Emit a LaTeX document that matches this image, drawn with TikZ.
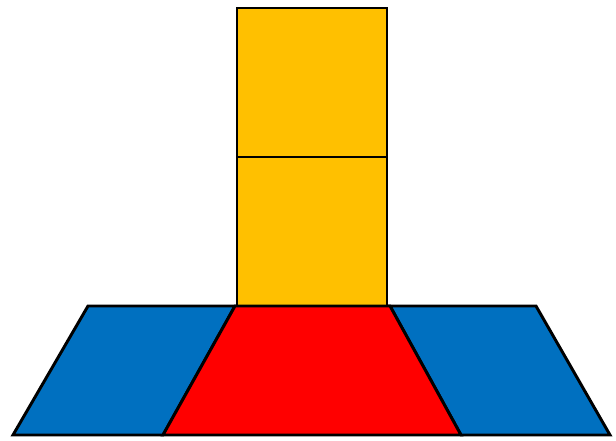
\documentclass[tikz,border=0pt]{standalone}
\usepackage{tikz}
\definecolor{tileyellow}{HTML}{FFC000}
\definecolor{tileblue}{HTML}{0070C0}
\definecolor{tilered}{HTML}{FF0000}

\begin{document}
\begin{tikzpicture}[x=0.05cm, y=-0.05cm,
    tile/.style={draw=black, line width=4.2pt, line join=miter}]
  % canvas in pixel units: 616 x 440, y grows downwards
  \useasboundingbox (0,0) rectangle (616,440);
  % stacked squares
  \filldraw[tile, fill=tileyellow] (237,8) rectangle (387,157);
  \filldraw[tile, fill=tileyellow] (237,157) rectangle (387,306);
  % side parallelograms
  \filldraw[tile, fill=tileblue] (88,306) -- (235,306) -- (163,435) -- (13,435) -- cycle;
  \filldraw[tile, fill=tileblue] (390,306) -- (536,306) -- (610,435) -- (461,435) -- cycle;
  % middle trapezoid
  \filldraw[tile, fill=tilered] (235,306) -- (390,306) -- (461,435) -- (163,435) -- cycle;
\end{tikzpicture}
\end{document}
